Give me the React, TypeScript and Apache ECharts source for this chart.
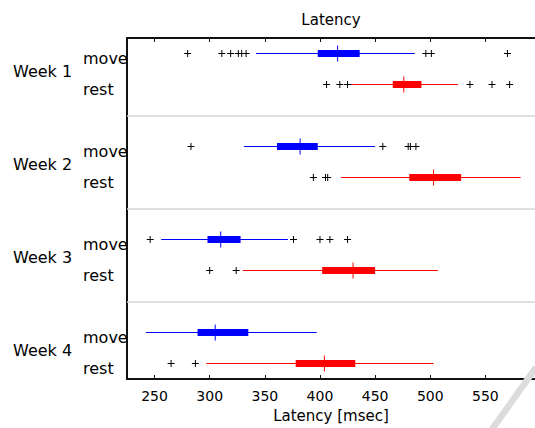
import React, { useEffect, useRef } from "react";
import * as echarts from "echarts";

const weeks = ["Week 1", "Week 2", "Week 3", "Week 4"];
const conditions = ["move", "rest"];
const xTicks = [250, 300, 350, 400, 450, 500, 550];

// [lower whisker, q1, median, q3, upper whisker]
const moveBoxes = [
  [342, 398, 416, 436, 486],
  [331, 361, 382, 398, 450],
  [256, 298, 310, 328, 371],
  [242, 289, 305, 335, 397],
];
const restBoxes = [
  [428, 466, 476, 492, 525],
  [419, 481, 503, 528, 582],
  [330, 402, 430, 450, 507],
  [297, 378, 404, 432, 503],
];
const moveOutliers = [
  [280, 311, 319, 326, 329, 333, 496, 501, 570],
  [283, 457, 480, 482, 487],
  [246, 376, 400, 409, 425],
  [],
];
const restOutliers = [
  [406, 418, 425, 536, 556, 572],
  [394, 405, 407],
  [300, 324],
  [265, 287],
];

const FONT = "DejaVu Sans";

export default function App() {
  const ref = useRef<HTMLDivElement>(null);
  useEffect(() => {
    if (!ref.current) return;
    const chart = echarts.init(ref.current, null, { renderer: "svg" });

    const rowPos = (week: number, cond: number) => week * 3 + 0.5 + cond;
    const rowValues: number[] = [];
    const rowLabel: Record<string, string> = {};
    weeks.forEach((_, k) => {
      conditions.forEach((c, j) => {
        const p = rowPos(k, j);
        rowValues.push(p);
        rowLabel[String(p)] = c;
      });
    });
    const weekValues = weeks.map((_, k) => k * 3 + 1);
    const weekLabel: Record<string, string> = {};
    weeks.forEach((w, k) => (weekLabel[String(k * 3 + 1)] = w));

    const moveData = moveBoxes.map((b, k) => [rowPos(k, 0), ...b]);
    const restData = restBoxes.map((b, k) => [rowPos(k, 1), ...b]);
    const outlierData: number[][] = [];
    moveOutliers.forEach((arr, k) => arr.forEach((v) => outlierData.push([v, rowPos(k, 0)])));
    restOutliers.forEach((arr, k) => arr.forEach((v) => outlierData.push([v, rowPos(k, 1)])));

    const boxRenderer = (color: string) => (params: any, api: any) => {
      const y = api.value(0);
      const lo = api.coord([api.value(1), y]);
      const q1 = api.coord([api.value(2), y]);
      const md = api.coord([api.value(3), y]);
      const q3 = api.coord([api.value(4), y]);
      const hi = api.coord([api.value(5), y]);
      return {
        type: "group",
        children: [
          { type: "line", shape: { x1: lo[0], y1: lo[1], x2: hi[0], y2: hi[1] }, style: { stroke: color, lineWidth: 1 } },
          { type: "rect", shape: { x: q1[0], y: q1[1] - 3.5, width: q3[0] - q1[0], height: 7 }, style: { fill: color } },
          { type: "line", shape: { x1: md[0], y1: md[1] - 8, x2: md[0], y2: md[1] + 8 }, style: { stroke: color, lineWidth: 1 } },
        ],
      };
    };

    const plusRenderer = (params: any, api: any) => {
      const p = api.coord([api.value(0), api.value(1)]);
      const s = 3.5;
      return {
        type: "group",
        children: [
          { type: "line", shape: { x1: p[0] - s, y1: p[1], x2: p[0] + s, y2: p[1] }, style: { stroke: "#000", lineWidth: 1 } },
          { type: "line", shape: { x1: p[0], y1: p[1] - s, x2: p[0], y2: p[1] + s }, style: { stroke: "#000", lineWidth: 1 } },
        ],
      };
    };

    const labelAxis = (shift: number, values: number[], map: Record<string, string>, margin: number) => ({
      type: "value",
      inverse: true,
      min: -shift,
      max: 11 - shift,
      position: "left",
      splitLine: { show: false },
      axisTick: { show: false },
      axisLine: { show: false, onZero: false },
      axisLabel: {
        customValues: values,
        formatter: (v: number) => map[String(v)] ?? "",
        align: "left",
        margin,
        fontSize: 16,
        color: "#000",
        fontFamily: FONT,
      },
    });

    const xBase = () => ({
      type: "value",
      min: 225,
      max: 595,
      splitLine: { show: false },
      axisLine: { show: true, onZero: false, lineStyle: { color: "#111", width: 2 } },
      axisTick: { show: true, inside: true, length: 4, customValues: xTicks, lineStyle: { color: "#111", width: 1 } },
    });

    chart.setOption({
      animation: false,
      backgroundColor: "#fff",
      textStyle: { fontFamily: FONT },
      grid: { left: 127, right: 0, top: 38, bottom: 48 },
      xAxis: [
        {
          ...xBase(),
          position: "bottom",
          axisLabel: { customValues: xTicks, fontSize: 14, color: "#000", margin: 10, fontFamily: FONT },
          name: "Latency [msec]",
          nameLocation: "middle",
          nameGap: 29,
          nameTextStyle: { fontSize: 15, color: "#000", fontFamily: FONT },
        },
        {
          ...xBase(),
          position: "top",
          axisLabel: { show: false },
          name: "Latency",
          nameLocation: "middle",
          nameGap: 11,
          nameTextStyle: { fontSize: 15, color: "#000", fontFamily: FONT },
        },
      ],
      yAxis: [
        {
          type: "value",
          inverse: true,
          min: 0,
          max: 11,
          position: "left",
          splitLine: { show: false },
          axisTick: { show: false },
          axisLabel: { show: false },
          axisLine: { show: true, onZero: false, lineStyle: { color: "#111", width: 2 } },
        },
        labelAxis(0.15, rowValues, rowLabel, 44),
        labelAxis(0.08, weekValues, weekLabel, 114),
      ],
      series: [
        {
          type: "line",
          data: [],
          xAxisIndex: 0,
          yAxisIndex: 0,
          markLine: {
            silent: true,
            symbol: "none",
            label: { show: false },
            lineStyle: { color: "#d6d6d6", width: 1.5, type: "solid" },
            data: weeks.slice(1).map((_, k) => ({ yAxis: (k + 1) * 3 - 0.5 })),
          },
        },
        {
          type: "custom",
          name: "move",
          xAxisIndex: 0,
          yAxisIndex: 0,
          renderItem: boxRenderer("#0000ff"),
          encode: { x: [1, 2, 3, 4, 5], y: 0 },
          data: moveData,
        },
        {
          type: "custom",
          name: "rest",
          xAxisIndex: 0,
          yAxisIndex: 0,
          renderItem: boxRenderer("#ff0000"),
          encode: { x: [1, 2, 3, 4, 5], y: 0 },
          data: restData,
        },
        {
          type: "custom",
          name: "outliers",
          xAxisIndex: 0,
          yAxisIndex: 0,
          renderItem: plusRenderer,
          encode: { x: 0, y: 1 },
          data: outlierData,
        },
      ],
      graphic: [
        {
          type: "polygon",
          z: 100,
          silent: true,
          shape: { points: [[533, 366], [541, 366], [497, 428], [489, 428]] },
          style: { fill: "#dcdcdc" },
        },
      ],
    });
    return () => chart.dispose();
  }, []);
  return <div ref={ref} style={{ position: "fixed", left: 0, top: 0, width: 535, height: 428 }} />;
}
